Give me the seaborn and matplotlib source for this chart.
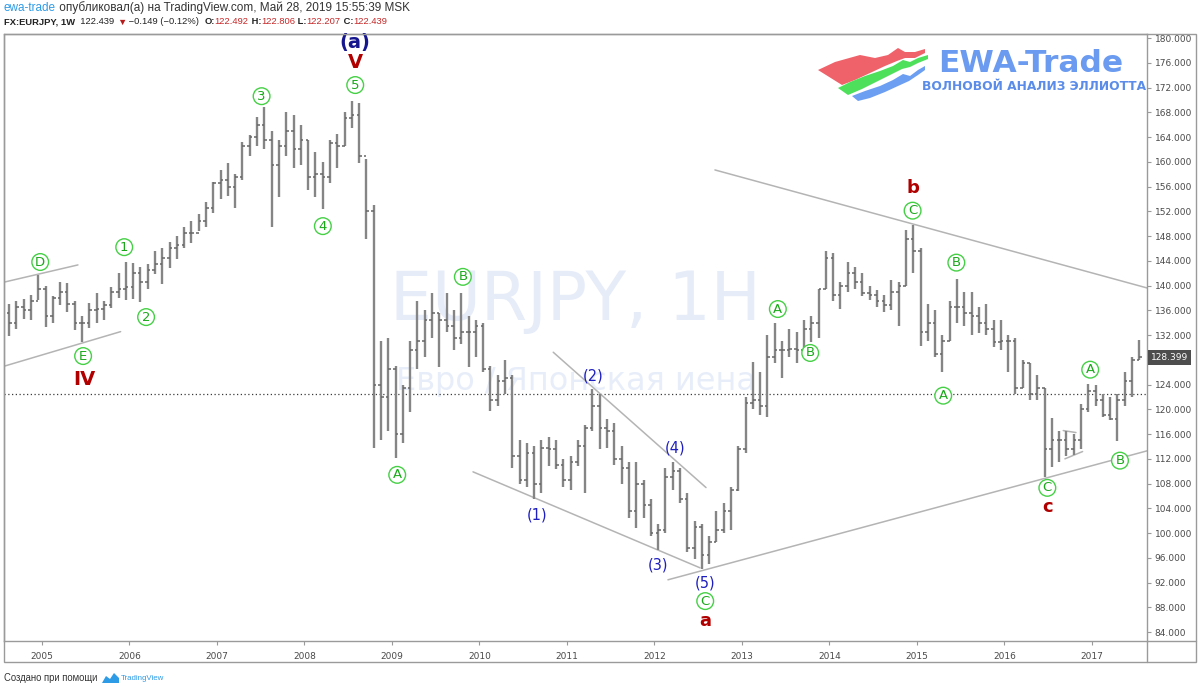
import numpy as np
import pandas as pd
import matplotlib
matplotlib.use("Agg")
import matplotlib.pyplot as plt
import matplotlib.transforms as mtransforms
from matplotlib.patches import Polygon, Rectangle
from matplotlib.lines import Line2D
import seaborn as sns

# ------------------------------------------------------------------ data
months = pd.period_range("2004-08", "2017-07", freq="M")
first_open = 135.5
highs = [
    137.0, 137.5, 137.8, 138.5, 141.7,
    140.0, 138.3, 140.6, 140.4, 137.5, 135.0, 137.2, 138.8, 137.5, 139.8, 142.0, 143.8,
    143.6, 143.0, 143.5, 145.5, 146.0, 147.0, 148.0, 149.5, 150.5, 151.5, 153.5, 156.8,
    158.7, 159.8, 158.0, 163.2, 164.3, 167.2, 168.9, 165.0, 163.5, 168.0, 167.5, 166.0,
    163.5, 161.5, 160.0, 163.5, 164.5, 168.0, 169.9, 169.5, 160.5, 153.0, 131.0, 131.5,
    127.0, 124.0, 131.0, 137.5, 136.0, 138.8, 135.5, 138.8, 136.0, 138.8, 135.0, 134.5,
    134.0, 127.0, 125.5, 128.0, 125.5, 115.0, 114.5, 114.0, 115.0, 115.5, 115.0, 112.0,
    112.5, 115.0, 117.5, 123.3, 122.5, 118.5, 117.8, 114.0, 111.5, 111.5, 108.5, 105.5,
    101.5, 110.5, 111.5, 110.5, 106.5, 102.0, 101.5, 99.5, 103.5, 104.8, 107.5, 114.0,
    122.0, 127.7, 126.0, 132.0, 134.0, 131.0, 133.0, 132.5, 134.5, 135.0, 139.5, 145.5,
    145.2, 140.5, 143.8, 143.0, 142.0, 140.0, 139.3, 138.5, 140.9, 140.5, 149.0, 149.8,
    146.0, 137.0, 136.0, 132.0, 137.5, 141.1, 139.0, 139.0, 136.5, 137.0, 134.5, 134.5,
    132.0, 131.5, 128.0, 127.5, 125.5, 123.5, 118.6, 116.5, 116.5, 116.0, 120.8, 124.1,
    124.0, 122.5, 122.0, 122.5, 126.0, 128.5, 131.2,
]
lows = [
    131.8, 133.0, 134.6, 134.4, 137.6,
    133.3, 134.0, 136.8, 135.8, 132.8, 130.8, 133.2, 134.0, 134.5, 136.3, 138.0, 137.7,
    137.8, 137.3, 139.5, 141.8, 140.2, 142.8, 144.3, 146.0, 146.8, 148.8, 149.5, 151.8,
    154.0, 154.5, 152.5, 157.0, 161.0, 162.5, 162.0, 149.5, 154.3, 161.0, 159.0, 159.5,
    155.5, 154.3, 152.3, 156.5, 159.0, 162.5, 165.5, 159.8, 147.5, 113.8, 115.0, 116.5,
    112.1, 114.5, 119.5, 126.5, 128.5, 131.5, 126.8, 132.5, 129.5, 130.5, 126.8, 128.5,
    126.0, 119.8, 120.5, 122.5, 110.5, 108.0, 107.5, 105.5, 106.5, 110.8, 110.3, 107.5,
    107.0, 110.8, 106.5, 116.5, 113.5, 113.8, 111.0, 108.0, 102.5, 100.8, 102.5, 99.5,
    97.2, 100.0, 107.0, 104.8, 97.0, 95.8, 94.2, 95.0, 98.5, 100.0, 100.5, 106.8,
    113.0, 120.0, 119.0, 118.7, 127.5, 125.0, 128.5, 127.5, 128.5, 130.8, 131.5, 139.5,
    137.5, 136.2, 139.0, 139.5, 138.3, 137.7, 136.5, 135.8, 136.0, 133.5, 140.0, 142.0,
    130.2, 131.0, 128.5, 126.1, 131.0, 134.0, 133.5, 132.0, 132.3, 132.0, 130.0, 129.5,
    126.0, 122.5, 123.5, 121.5, 121.5, 109.1, 110.7, 111.5, 112.5, 112.6, 113.5, 119.5,
    120.5, 118.7, 118.2, 114.8, 120.5, 122.0, 128.0,
]
closes = [
    134.0, 136.5, 136.0, 137.5, 139.5,
    135.0, 138.0, 139.0, 137.0, 134.0, 134.0, 136.0, 136.2, 136.8, 139.0, 139.5, 139.8,
    142.0, 140.5, 142.5, 143.5, 144.5, 146.0, 146.5, 148.5, 148.5, 150.5, 152.5, 156.5,
    157.0, 156.0, 157.5, 162.5, 164.0, 166.0, 163.5, 159.5, 162.5, 165.0, 162.0, 163.5,
    157.5, 158.0, 157.5, 163.0, 162.5, 167.0, 167.5, 161.0, 152.0, 124.0, 122.0, 126.5,
    116.0, 123.5, 129.5, 131.0, 134.5, 135.5, 134.5, 133.5, 131.5, 132.5, 132.5, 133.5,
    126.5, 121.5, 124.5, 125.0, 112.5, 108.5, 113.0, 108.0, 113.8, 113.5, 111.0, 108.5,
    111.5, 114.0, 117.0, 120.5, 117.0, 116.5, 112.0, 110.5, 103.5, 108.0, 104.5, 100.0,
    100.5, 109.0, 110.0, 105.5, 97.5, 101.0, 96.5, 98.5, 100.5, 103.5, 107.0, 113.5,
    121.0, 121.5, 120.5, 128.5, 129.5, 129.5, 129.8, 129.5, 133.0, 134.0, 139.5, 144.5,
    138.5, 140.0, 142.0, 140.5, 138.8, 138.5, 137.5, 136.8, 139.0, 140.0, 147.5, 145.5,
    132.5, 134.0, 129.0, 131.0, 136.5, 136.5, 135.5, 135.0, 134.0, 133.0, 130.8, 131.0,
    131.0, 123.5, 127.5, 122.5, 123.5, 113.5, 115.0, 115.0, 113.5, 115.0, 120.0, 123.0,
    121.5, 119.0, 118.5, 121.5, 124.5, 128.0, 128.399,
]

price_ticks = list(range(84, 181, 4))
year_ticks = list(range(2005, 2018))
last_price = 128.399
current_price = 122.439

# circled (green) wave labels
circ_text = ["D", "E", "1", "2", "3", "4", "5", "A", "B", "C", "A", "B", "C", "B", "A", "A", "B", "C"]
circ_year = [2004.98, 2005.47, 2005.94, 2006.19, 2007.51, 2008.21, 2008.58, 2009.06, 2009.81,
             2012.58, 2013.41, 2013.78, 2014.95, 2015.45, 2015.30, 2016.98, 2017.32, 2016.49]
circ_price = [143.8, 128.6, 146.2, 134.9, 170.6, 149.6, 172.4, 109.4, 141.4,
              89.0, 136.2, 129.1, 152.1, 143.7, 122.2, 126.4, 111.7, 107.3]
# blue wave labels
blue_text = ["(1)", "(2)", "(3)", "(4)", "(5)"]
blue_year = [2010.66, 2011.30, 2012.04, 2012.23, 2012.58]
blue_price = [102.9, 125.4, 94.9, 113.8, 92.0]
top_text, top_year, top_price = "(a)", 2008.58, 179.3
# red wave labels
red_text = ["IV", "V", "a", "b", "c"]
red_year = [2005.48, 2008.58, 2012.58, 2014.95, 2016.49]
red_price = [124.8, 176.1, 85.8, 155.8, 104.2]

# trend lines (segment id, year, price)
tl_id = [1, 1, 2, 2, 3, 3, 4, 4, 5, 5, 6, 6, 7, 7, 8, 8]
tl_year = [2004.577, 2005.411, 2004.577, 2005.899, 2009.926, 2012.52, 2010.843, 2012.589,
           2012.154, 2017.629, 2012.691, 2017.629, 2016.672, 2016.817, 2016.691, 2016.893]
tl_price = [140.58, 143.33, 127.0, 132.55, 109.89, 94.38, 129.22, 107.35,
            92.44, 113.28, 158.68, 139.61, 116.56, 116.24, 111.99, 113.17]

# ------------------------------------------------------------------ style
sns.set_theme(style="white")
plt.rcParams["font.family"] = ["DejaVu Sans"]

W, H = 1200, 691
fig = plt.figure(figsize=(W / 100, H / 100), dpi=100)
fig.patch.set_facecolor("white")


def fx(x):
    return x / W


def fy(y):
    return 1 - y / H


ax = fig.add_axes([fx(4), fy(641), (1147 - 4) / W, (641 - 34) / H])
ax.set_facecolor("white")
ax.set_xlim(2004.566, 2017.629)
ax.set_ylim(82.55, 180.65)

# watermark
ax.text(0.5, 0.56, "EURJPY, 1H", transform=ax.transAxes, fontsize=48, color="#e6ecf8",
        ha="center", va="center", zorder=0)
ax.text(0.5, 0.428, "Евро / Японская иена", transform=ax.transAxes, fontsize=23,
        color="#e8eef9", ha="center", va="center", zorder=0)

# OHLC bars
xs = np.array([p.year + (p.month - 0.5) / 12 for p in months])
opens = [first_open] + closes[:-1]
bar_color = "#858585"
tick = 2.6 / 87.5
ax.vlines(xs, lows, highs, color=bar_color, lw=1.7, zorder=3)
ax.hlines(opens, xs - tick, xs, color="#666666", lw=1.1, zorder=3)
ax.hlines(closes, xs, xs + tick, color="#666666", lw=1.1, zorder=3)

# current price dotted line
ax.axhline(current_price, color="#3a3a3a", lw=0.9, ls=(0, (1, 2)), zorder=2)

# trend lines via seaborn
tl_df = pd.DataFrame({"line": tl_id, "year": tl_year, "price": tl_price})
sns.lineplot(data=tl_df, x="year", y="price", units="line", estimator=None, sort=False,
             color="#b4b4b4", lw=1.1, ax=ax, legend=False, zorder=2)

# wave labels
for t, xv, yv in zip(circ_text, circ_year, circ_price):
    ax.text(xv, yv, t, color="#1aa81a", fontsize=9.5, ha="center", va="center", zorder=5,
            bbox=dict(boxstyle="circle,pad=0.14", fc="white", ec="#45d045", lw=1.0))
for t, xv, yv in zip(blue_text, blue_year, blue_price):
    ax.text(xv, yv, t, color="#1f1fc0", fontsize=10.5, ha="center", va="center", zorder=5)
ax.text(top_year, top_price, top_text, color="#16168f", fontsize=14, fontweight="bold",
        ha="center", va="center", zorder=5)
for t, xv, yv in zip(red_text, red_year, red_price):
    ax.text(xv, yv, t, color="#b00000", fontsize=14 if t in ("IV", "V") else 13,
            fontweight="bold", ha="center", va="center", zorder=5)

# axes / ticks
ax.set_xlabel("")
ax.set_ylabel("")
ax.set_xticks(year_ticks)
ax.set_xticklabels([str(y) for y in year_ticks])
ax.set_yticks(price_ticks)
ax.set_yticklabels(["" if v == 128 else f"{v:.3f}" for v in price_ticks])
ax.yaxis.tick_right()
ax.tick_params(axis="y", which="both", right=True, left=False, labelright=True, labelleft=False,
               length=3, width=0.8, color="#9a9a9a", labelsize=6.5, labelcolor="#4a4a4a", pad=2.5)
ax.tick_params(axis="x", which="both", bottom=True, length=3, width=0.8, color="#9a9a9a",
               labelsize=6.5, labelcolor="#4a4a4a", pad=5)
for s in ax.spines.values():
    s.set_color("#9a9a9a")
    s.set_linewidth(1.0)
ax.grid(False)

# last price marker
ax.text(1.0 + 4 / 1143, last_price, "128.399",
        transform=mtransforms.blended_transform_factory(ax.transAxes, ax.transData),
        ha="left", va="center", fontsize=6.5, color="white", zorder=6, clip_on=False,
        bbox=dict(boxstyle="square,pad=0.35", fc="#4d4d4d", ec="none"))

# outer frame
fig.add_artist(Rectangle((fx(4), fy(662)), fx(1196) - fx(4), fy(34) - fy(662),
                         transform=fig.transFigure, fill=False, ec="#9a9a9a", lw=1.0))
fig.add_artist(Line2D([fx(1147), fx(1196)], [fy(641), fy(641)], transform=fig.transFigure,
                      color="#9a9a9a", lw=1.0))
fig.add_artist(Line2D([fx(1147), fx(1147)], [fy(641), fy(662)], transform=fig.transFigure,
                      color="#9a9a9a", lw=1.0))

# logo
red_poly = [(818, 70), (835, 62), (860, 55), (875, 58), (888, 55), (898, 48), (905, 52), (915, 52),
            (925, 49), (925, 53), (915, 58), (905, 58), (897, 61), (885, 66), (870, 73), (855, 80), (842, 85)]
green_poly = [(838, 88), (850, 82), (865, 76), (880, 71), (893, 66), (903, 60), (910, 62), (918, 58),
              (928, 55), (928, 59), (918, 63), (910, 67), (902, 69), (892, 74), (878, 81), (862, 89), (848, 95)]
blue_poly = [(852, 96), (865, 91), (880, 86), (893, 80), (903, 74), (910, 76), (918, 70), (925, 66),
             (925, 70), (918, 75), (909, 81), (898, 86), (885, 92), (870, 98), (858, 101)]
for pts, col in ((red_poly, "#f0626a"), (green_poly, "#4ee05a"), (blue_poly, "#6c9ef2")):
    fig.add_artist(Polygon([(fx(a), fy(b)) for a, b in pts], closed=True, transform=fig.transFigure,
                           fc=col, ec="none", zorder=4))
fig.text(fx(1031), fy(64), "EWA-Trade", color="#6a9bf0", fontsize=22.5, fontweight="bold",
         ha="center", va="center", zorder=5)
fig.text(fx(1034), fy(86), "ВОЛНОВОЙ АНАЛИЗ ЭЛЛИОТТА", color="#5b8de8", fontsize=8.8,
         fontweight="bold", ha="center", va="center", zorder=5)

# header / footer text
renderer = fig.canvas.get_renderer()
hdr_font = ["Liberation Sans", "DejaVu Sans"]


def write_seq(x0, y, parts, size, target=None):
    def draw(sz):
        texts = []
        x = x0
        for s, col, wt in parts:
            t = fig.text(fx(x), fy(y), s, color=col, fontsize=sz, fontweight=wt, ha="left",
                         va="center", family=hdr_font)
            bb = t.get_window_extent(renderer)
            x += bb.width
            texts.append(t)
        return texts, x

    texts, xend = draw(size)
    if target is not None:
        scale = (target - x0) / (xend - x0)
        for t in texts:
            t.remove()
        texts, xend = draw(size * scale)
    return xend


write_seq(4, 8, [("ewa-trade", "#2e9be6", "normal"),
                 (" опубликовал(а) на TradingView.com, Май 28, 2019 15:55:39 MSK", "#333333", "normal")],
          8, target=412)
red = "#c62828"
dark = "#222222"
write_seq(4, 22, [("FX:EURJPY, 1W", dark, "bold"), ("  122.439 ", dark, "normal"), ("▼", "#b71c1c", "normal"),
                  (" −0.149 (−0.12%)  ", dark, "normal"), ("O:", dark, "bold"), ("122.492", red, "normal"),
                  (" H:", dark, "bold"), ("122.806", red, "normal"), (" L:", dark, "bold"),
                  ("122.207", red, "normal"), (" C:", dark, "bold"), ("122.439", red, "normal")],
          8, target=389)
write_seq(4, 678, [("Создано при помощи", "#333333", "normal")], 7, target=98)
fig.add_artist(Polygon([(fx(a), fy(b)) for a, b in [(102, 683), (106, 676), (110, 679), (114, 673),
                                                      (119, 678), (119, 683)]],
                       closed=True, transform=fig.transFigure, fc="#2e9be6", ec="none"))
write_seq(121, 678, [("TradingView", "#2e9be6", "normal")], 7, target=164)

fig.savefig("out.png", dpi=100)
